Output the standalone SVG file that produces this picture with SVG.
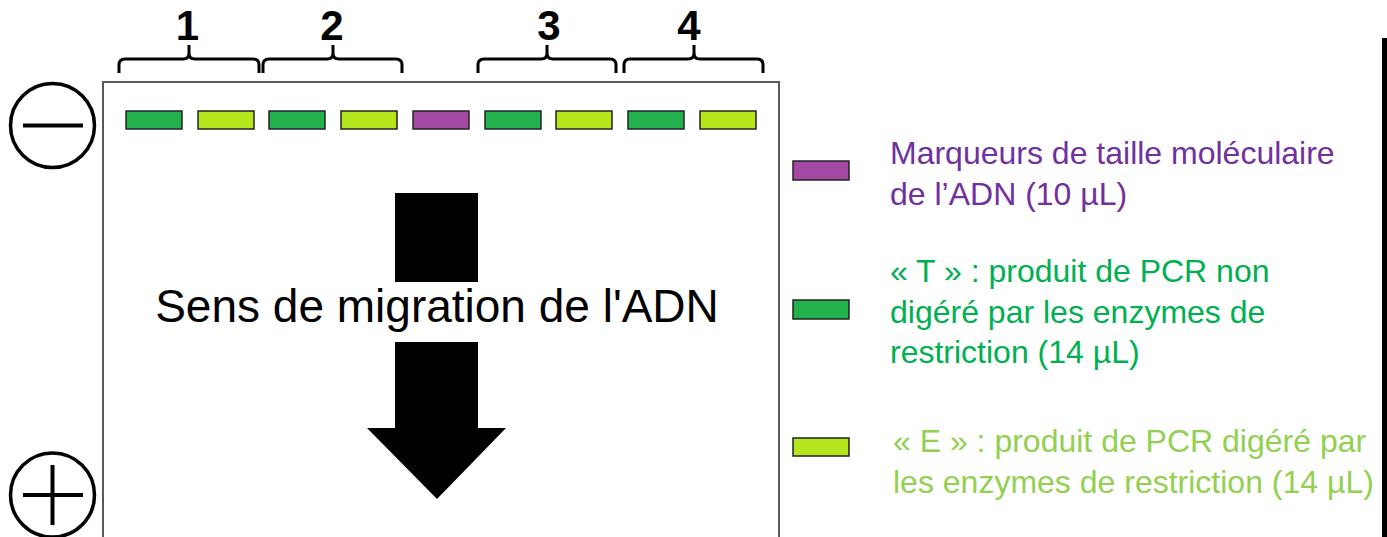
<svg xmlns="http://www.w3.org/2000/svg" width="1387" height="537" viewBox="0 0 1387 537">
<style>
.well{stroke:#222;stroke-width:1.5}
.T{fill:#22b14c}
.E{fill:#b5e61d}
.M{fill:#a349a4}
.brace{fill:none;stroke:#000;stroke-width:3;stroke-linejoin:round}
.num{font-family:"Liberation Sans",Arial,sans-serif;font-weight:bold;font-size:42px;text-anchor:middle;fill:#000}
.leg{font-family:"Liberation Sans",Arial,sans-serif;font-size:32px}
.pole{fill:none;stroke:#000;stroke-width:3.5}
</style>
<rect width="1387" height="537" fill="#fff"/>
<g id="gel">
<rect x="103" y="82" width="676" height="470" fill="#fff" stroke="#595959" stroke-width="2"/>
</g>
<g id="wells">
<rect class="well T" x="126" y="111" width="56" height="18"/>
<rect class="well E" x="198" y="111" width="56" height="18"/>
<rect class="well T" x="269" y="111" width="56" height="18"/>
<rect class="well E" x="341" y="111" width="56" height="18"/>
<rect class="well M" x="413" y="111" width="56" height="18"/>
<rect class="well T" x="485" y="111" width="56" height="18"/>
<rect class="well E" x="556" y="111" width="56" height="18"/>
<rect class="well T" x="628" y="111" width="56" height="18"/>
<rect class="well E" x="700" y="111" width="56" height="18"/>
</g>
<g id="braces">
<path class="brace" d="M119,73 L119,65 Q119,59 125,59 L183,59 Q189,59 189,53 L189,45 M189,53 Q189,59 195,59 L253,59 Q259,59 259,65 L259,73"/>
<path class="brace" d="M263,73 L263,65 Q263,59 269,59 L327,59 Q333,59 333,53 L333,45 M333,53 Q333,59 339,59 L396,59 Q402,59 402,65 L402,73"/>
<path class="brace" d="M478,73 L478,65 Q478,59 484,59 L541,59 Q547,59 547,53 L547,45 M547,53 Q547,59 553,59 L610,59 Q616,59 616,65 L616,73"/>
<path class="brace" d="M624,73 L624,65 Q624,59 630,59 L688,59 Q694,59 694,53 L694,45 M694,53 Q694,59 700,59 L757,59 Q763,59 763,65 L763,73"/>
</g>
<g id="lane-numbers">
<text class="num" x="187.5" y="40">1</text>
<text class="num" x="332" y="40">2</text>
<text class="num" x="549" y="40">3</text>
<text class="num" x="689" y="40">4</text>
</g>
<g id="cathode">
<circle class="pole" cx="52.5" cy="125.5" r="42"/>
<line x1="23" y1="125.5" x2="83" y2="125.5" stroke="#000" stroke-width="4"/>
</g>
<g id="anode">
<circle class="pole" cx="52.5" cy="495" r="42"/>
<line x1="23" y1="495" x2="83" y2="495" stroke="#000" stroke-width="4"/>
<line x1="52.5" y1="465" x2="52.5" y2="525" stroke="#000" stroke-width="4"/>
</g>
<g id="migration-arrow">
<rect x="395" y="193" width="83" height="89" fill="#000"/>
<polygon points="395,342 478,342 478,428 506,428 437,499 367,428 395,428" fill="#000"/>
<text x="437" y="322" font-family="'Liberation Sans',Arial,sans-serif" font-size="46" text-anchor="middle" fill="#000">Sens de migration de l'ADN</text>
</g>
<g id="legend-marker">
<rect class="well M" x="793" y="161" width="56" height="19"/>
<text class="leg" fill="#7030a0"><tspan x="890" y="164">Marqueurs de taille moléculaire</tspan><tspan x="890" y="205">de l’ADN (10 µL)</tspan></text>
</g>
<g id="legend-T">
<rect class="well T" x="793" y="300" width="56" height="19"/>
<text class="leg" fill="#00b050"><tspan x="890" y="282">« T » : produit de PCR non</tspan><tspan x="890" y="323">digéré par les enzymes de</tspan><tspan x="890" y="363">restriction (14 µL)</tspan></text>
</g>
<g id="legend-E">
<rect class="well E" x="793" y="438" width="56" height="18"/>
<text class="leg" fill="#92d050"><tspan x="893" y="452">« E » : produit de PCR digéré par</tspan><tspan x="893" y="493">les enzymes de restriction (14 µL)</tspan></text>
</g>
<rect x="1382" y="38" width="5" height="499" fill="#000"/>
</svg>
